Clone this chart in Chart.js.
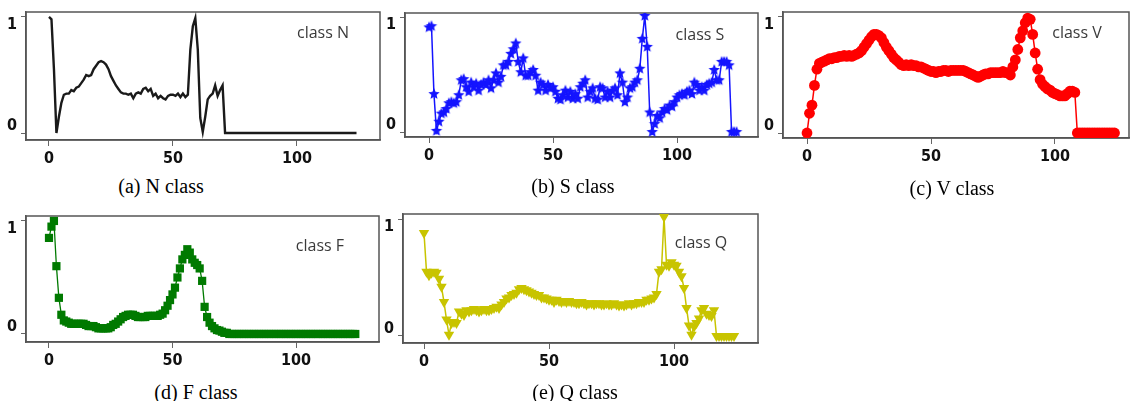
<!DOCTYPE html>
<html><head><meta charset="utf-8">
<script src="https://cdn.jsdelivr.net/npm/chart.js@4/dist/chart.umd.min.js"></script>
<style>
html,body{margin:0;padding:0;background:#fff;width:1130px;height:401px;overflow:hidden;position:relative;}
canvas{position:absolute;}
.cap{position:absolute;font-family:'Liberation Serif','Times New Roman',serif;font-size:20px;color:#000;transform:translate(-50%,-50%);white-space:nowrap;}
</style></head><body>
<canvas id="cN" width="382" height="162" style="left:0px;top:10px"></canvas>
<canvas id="cS" width="381" height="158" style="left:379px;top:11px"></canvas>
<canvas id="cV" width="374" height="160" style="left:757px;top:10px"></canvas>
<canvas id="cF" width="381" height="160" style="left:0px;top:214px"></canvas>
<canvas id="cQ" width="383" height="163" style="left:377px;top:212px"></canvas>
<div class="cap" style="left:161px;top:186px">(a) N class</div>
<div class="cap" style="left:573px;top:186px">(b) S class</div>
<div class="cap" style="left:952px;top:188px">(c) V class</div>
<div class="cap" style="left:196px;top:392px">(d) F class</div>
<div class="cap" style="left:575px;top:392px">(e) Q class</div>
<script>
const xTicks = [0, 50, 100];
const yTicks = [0, 1];
const classN = [
1.00,0.98,0.55,0.00,0.14,0.26,0.33,0.34,0.34,0.37,
0.36,0.39,0.40,0.43,0.46,0.50,0.49,0.50,0.55,0.58,
0.61,0.62,0.61,0.59,0.55,0.49,0.45,0.41,0.38,0.35,
0.34,0.34,0.33,0.34,0.30,0.34,0.35,0.34,0.38,0.39,
0.36,0.38,0.32,0.34,0.30,0.32,0.30,0.29,0.32,0.33,
0.33,0.32,0.34,0.31,0.34,0.31,0.33,0.72,0.92,0.99,
0.72,0.13,0.01,0.14,0.29,0.32,0.34,0.41,0.32,0.37,
0.41,0,0,0,0,0,0,0,0,0,
0,0,0,0,0,0,0,0,0,0,
0,0,0,0,0,0,0,0,0,0,
0,0,0,0,0,0,0,0,0,0,
0,0,0,0,0,0,0,0,0,0,
0,0,0,0,0];
const classS = [
0.91,0.92,0.33,0.01,0.09,0.16,0.17,0.20,0.25,0.26,
0.25,0.26,0.32,0.45,0.46,0.39,0.35,0.43,0.39,0.42,
0.36,0.41,0.43,0.41,0.45,0.38,0.45,0.51,0.43,0.48,
0.58,0.58,0.61,0.68,0.72,0.77,0.61,0.52,0.64,0.49,
0.49,0.52,0.54,0.49,0.36,0.43,0.41,0.36,0.41,0.38,
0.39,0.35,0.29,0.28,0.32,0.36,0.30,0.35,0.29,0.33,
0.29,0.39,0.42,0.45,0.30,0.35,0.38,0.29,0.28,0.39,
0.38,0.30,0.35,0.30,0.36,0.38,0.32,0.51,0.43,0.26,
0.30,0.38,0.39,0.43,0.45,0.55,0.81,1.01,0.74,0.17,
0.00,0.07,0.14,0.12,0.17,0.20,0.19,0.23,0.22,0.26,
0.30,0.32,0.33,0.32,0.35,0.36,0.33,0.43,0.41,0.36,
0.39,0.36,0.41,0.42,0.43,0.54,0.45,0.45,0.61,0.61,
0.61,0.58,0,0,0];
const classV = [
0.00,0.17,0.24,0.41,0.55,0.60,0.61,0.62,0.63,0.64,
0.64,0.65,0.65,0.66,0.66,0.67,0.66,0.67,0.66,0.67,
0.68,0.69,0.71,0.74,0.77,0.80,0.83,0.85,0.85,0.84,
0.82,0.78,0.74,0.71,0.68,0.65,0.63,0.61,0.59,0.58,
0.59,0.58,0.59,0.58,0.58,0.57,0.57,0.56,0.55,0.54,
0.53,0.53,0.52,0.53,0.53,0.54,0.54,0.53,0.54,0.54,
0.54,0.54,0.54,0.54,0.53,0.52,0.51,0.50,0.49,0.48,
0.49,0.50,0.51,0.51,0.52,0.52,0.52,0.52,0.52,0.53,
0.52,0.52,0.50,0.57,0.63,0.72,0.82,0.88,0.95,0.99,
0.98,0.85,0.69,0.55,0.46,0.42,0.40,0.38,0.37,0.35,
0.34,0.33,0.32,0.32,0.32,0.34,0.36,0.36,0.35,0,
0,0,0,0,0,0,0,0,0,0,
0,0,0,0,0];
const classF = [
0.85,0.95,1.00,0.60,0.32,0.17,0.12,0.11,0.10,0.09,
0.09,0.09,0.09,0.09,0.09,0.08,0.07,0.07,0.07,0.06,
0.05,0.05,0.05,0.05,0.05,0.06,0.08,0.09,0.11,0.13,
0.15,0.16,0.17,0.17,0.17,0.16,0.15,0.15,0.15,0.15,
0.16,0.16,0.16,0.16,0.16,0.17,0.18,0.21,0.25,0.30,
0.35,0.41,0.50,0.58,0.66,0.70,0.75,0.72,0.66,0.63,
0.61,0.58,0.47,0.24,0.15,0.10,0.07,0.05,0.035,0.03,
0.02,0.01,0.01,0,0,0,0,0,0,0,
0,0,0,0,0,0,0,0,0,0,
0,0,0,0,0,0,0,0,0,0,
0,0,0,0,0,0,0,0,0,0,
0,0,0,0,0,0,0,0,0,0,
0,0,0,0,0];
const classQ = [
0.88,0.55,0.52,0.54,0.55,0.54,0.49,0.42,0.29,0.14,
0.01,0.11,0.12,0.11,0.21,0.19,0.18,0.22,0.21,0.22,
0.23,0.22,0.21,0.22,0.23,0.22,0.22,0.23,0.24,0.25,
0.24,0.27,0.29,0.32,0.33,0.35,0.36,0.37,0.40,0.41,
0.40,0.39,0.38,0.37,0.36,0.35,0.35,0.33,0.33,0.32,
0.31,0.31,0.29,0.31,0.30,0.29,0.30,0.29,0.30,0.29,
0.29,0.28,0.28,0.29,0.28,0.27,0.28,0.28,0.27,0.28,
0.28,0.27,0.27,0.28,0.27,0.27,0.28,0.27,0.26,0.27,
0.26,0.27,0.28,0.27,0.28,0.28,0.29,0.29,0.29,0.31,
0.31,0.32,0.33,0.36,0.55,0.57,1.02,0.61,0.60,0.63,
0.61,0.60,0.55,0.51,0.41,0.24,0.09,0.01,0.08,0.11,
0.15,0.22,0.24,0.19,0.18,0.17,0.22,0,0,0,
0,0,0,0,0];
const panelLabels = ['class N', 'class S', 'class V', 'class F', 'class Q'];

function makeStar(color, R) {
  const c = document.createElement('canvas');
  const s = Math.ceil(R * 2) + 2;
  c.width = c.height = s;
  const g = c.getContext('2d');
  g.fillStyle = color;
  g.beginPath();
  for (let i = 0; i < 10; i++) {
    const r = i % 2 ? R * 0.45 : R;
    const a = -Math.PI / 2 + i * Math.PI / 5;
    const px = s / 2 + r * Math.cos(a), py = s / 2 + r * Math.sin(a);
    if (i) g.lineTo(px, py); else g.moveTo(px, py);
  }
  g.closePath(); g.fill();
  return c;
}

const framePlugin = {
  id: 'frame',
  beforeDatasetsDraw(chart, args, opts) {
    const {ctx, chartArea: a} = chart;
    ctx.save();
    ctx.strokeStyle = '#555';
    ctx.lineWidth = 1.5;
    ctx.strokeRect(a.left, a.top, a.right - a.left, a.bottom - a.top);
    ctx.fillStyle = '#3a3a3a';
    ctx.font = '16px "Open Sans", "Noto Sans", sans-serif';
    ctx.textAlign = 'center';
    ctx.textBaseline = 'middle';
    ctx.fillText(opts.text, a.right + opts.dx, a.top + opts.dy);
    ctx.restore();
  }
};

const tickFont = "'DejaVu Sans Condensed','Liberation Sans Narrow','Liberation Sans',Arial,sans-serif";

function makeChart(id, values, ds, xr, yr, label) {
  const pts = values.map((v, i) => ({x: i, y: v}));
  return new Chart(document.getElementById(id), {
    type: 'line',
    data: {datasets: [Object.assign({data: pts, tension: 0}, ds)]},
    options: {
      responsive: false, animation: false, events: [],
      layout: {padding: {top: 2, right: 2, left: 0, bottom: 0}, autoPadding: false},
      plugins: {legend: {display: false}, tooltip: {enabled: false}, frame: label},
      scales: {
        x: {
          type: 'linear', min: xr[0], max: xr[1],
          afterBuildTicks: s => { s.ticks = xTicks.map(v => ({value: v})); },
          afterFit: s => { s.height = 32; s.paddingLeft = 0; s.paddingRight = 0; },
          grid: {display: true, drawOnChartArea: false, drawTicks: true, tickLength: 6, color: '#666', lineWidth: 1},
          border: {display: true, color: '#555', width: 1.5},
          ticks: {font: {family: tickFont, size: 16, weight: 'bold'}, color: '#111', padding: 3, maxRotation: 0, autoSkip: false}
        },
        y: {
          type: 'linear', min: yr[0], max: yr[1],
          afterBuildTicks: s => { s.ticks = yTicks.map(v => ({value: v})); },
          afterFit: s => { s.width = 26; s.paddingTop = 0; s.paddingBottom = 0; },
          grid: {display: true, drawOnChartArea: false, drawTicks: true, tickLength: 5, color: '#666', lineWidth: 1},
          border: {display: true, color: '#555', width: 1.5},
          ticks: {font: {family: tickFont, size: 16, weight: 'bold', lineHeight: 0.95}, color: '#111', padding: 4,
            callback: v => v >= 0.5 ? ['', String(v)] : [String(v), '']}
        }
      }
    },
    plugins: [framePlugin]
  });
}

makeChart('cN', classN,
  {borderColor: '#1a1a1a', borderWidth: 2.4, pointRadius: 0},
  [-9.27, 133.47], [-0.060, 1.043], {text: panelLabels[0], dx: -57, dy: 21});
makeChart('cS', classS,
  {borderColor: '#1414ff', borderWidth: 1.5, pointStyle: makeStar('#1414ff', 6), pointRadius: 5},
  [-9.68, 132.66], [-0.043, 1.035], {text: panelLabels[1], dx: -58, dy: 22});
makeChart('cV', classV,
  {borderColor: '#ff0000', borderWidth: 1.5, pointStyle: 'circle', pointRadius: 5.4, pointBackgroundColor: '#ff0000', pointBorderWidth: 0},
  [-9.68, 129.84], [-0.043, 1.043], {text: panelLabels[2], dx: -52, dy: 21});
makeChart('cF', classF,
  {borderColor: '#007a00', borderWidth: 1.3, pointStyle: 'rect', pointRadius: 5.8, pointBackgroundColor: '#007a00', pointBorderWidth: 0},
  [-9.31, 133.6], [-0.071, 1.044], {text: panelLabels[3], dx: -59, dy: 30});
makeChart('cQ', classQ,
  {borderColor: '#c8c400', borderWidth: 1.5, pointStyle: 'triangle', pointRotation: 180, pointRadius: 6, pointBackgroundColor: '#c8c400', pointBorderWidth: 0},
  [-8.4, 133.6], [-0.060, 1.043], {text: panelLabels[4], dx: -57, dy: 29});
</script>
</body></html>
